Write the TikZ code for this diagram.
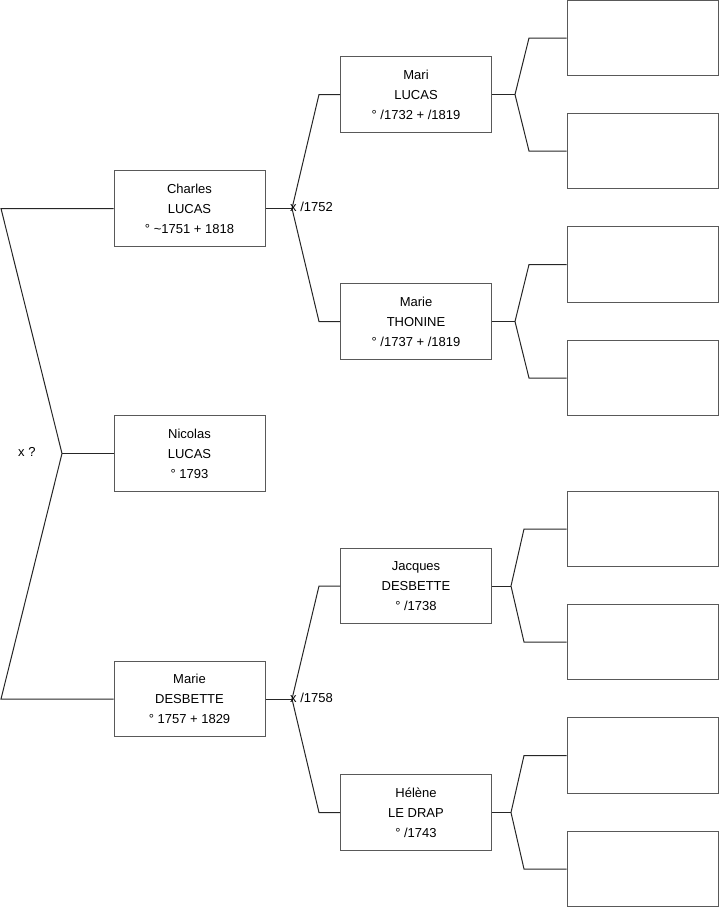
\documentclass[tikz,border=0pt]{standalone}
\usepackage{fontspec}
\setmainfont{Liberation Sans}
\begin{document}
\begin{tikzpicture}[x=1pt,y=-1pt,
  person/.style={draw=black!65,line width=1pt,minimum width=151pt,minimum height=75.5pt,inner sep=0pt,align=center,font=\fontsize{13}{20}\selectfont},
  empty/.style={draw=black!65,line width=1pt,minimum width=151pt,minimum height=75.5pt,inner sep=0pt},
  link/.style={draw=black!85,line width=1pt},
  lbl/.style={font=\fontsize{13}{15}\selectfont,inner sep=0pt}]
\useasboundingbox (0,0) rectangle (719,908);
% generation 1
\node[person] (C) at (189.5,208.5) {Charles\\LUCAS\\° \textasciitilde1751 + 1818};
\node[person] (N) at (189.5,453.5) {Nicolas\\LUCAS\\° 1793};
\node[person] (MD) at (189.5,699) {Marie\\DESBETTE\\° 1757 + 1829};
% generation 2
\node[person] (ML) at (416,94.5) {Mari\\LUCAS\\° /1732 + /1819};
\node[person] (MT) at (416,321.5) {Marie\\THONINE\\° /1737 + /1819};
\node[person] (JD) at (416,586) {Jacques\\DESBETTE\\° /1738};
\node[person] (HL) at (416,812.5) {Hélène\\LE DRAP\\° /1743};
% generation 3
\node[empty] (E1) at (642.5,38) {};
\node[empty] (E2) at (642.5,151) {};
\node[empty] (E3) at (642.5,264.5) {};
\node[empty] (E4) at (642.5,378) {};
\node[empty] (E5) at (642.5,529) {};
\node[empty] (E6) at (642.5,642) {};
\node[empty] (E7) at (642.5,755.5) {};
\node[empty] (E8) at (642.5,869) {};
% left fork
\coordinate (LT) at (1,208.5);
\coordinate (LB) at (1,699);
\coordinate (LF) at (62,453.5);
\draw[link] (C.west) -- (LT) -- (LF) -- (LB) -- (MD.west);
\draw[link] (LF) -- (N.west);
\node[lbl,anchor=west] (X0) at (18,452) {x ?};
% Charles fork
\coordinate (CF) at (292,208.5);
\draw[link] (C.east) -- (CF);
\draw[link] (ML.west) -- (319,94.5) -- (CF) -- (319,321.5) -- (MT.west);
\node[lbl,anchor=west] (X1) at (290,207) {x /1752};
% Marie D fork
\coordinate (MF) at (292,699);
\draw[link] (MD.east) -- (MF);
\draw[link] (JD.west) -- (319,586) -- (MF) -- (319,812.5) -- (HL.west);
\node[lbl,anchor=west] (X2) at (290,698) {x /1758};
% gen2 -> gen3 forks
\coordinate (F1) at (515,94.5);
\draw[link] (ML.east) -- (F1);
\draw[link] (E1.west) -- (529,38) -- (F1) -- (529,151) -- (E2.west);
\coordinate (F2) at (515,321.5);
\draw[link] (MT.east) -- (F2);
\draw[link] (E3.west) -- (529,264.5) -- (F2) -- (529,378) -- (E4.west);
\coordinate (F3) at (511,586);
\draw[link] (JD.east) -- (F3);
\draw[link] (E5.west) -- (524,529) -- (F3) -- (524,642) -- (E6.west);
\coordinate (F4) at (511,812.5);
\draw[link] (HL.east) -- (F4);
\draw[link] (E7.west) -- (524,755.5) -- (F4) -- (524,869) -- (E8.west);
\end{tikzpicture}
\end{document}
